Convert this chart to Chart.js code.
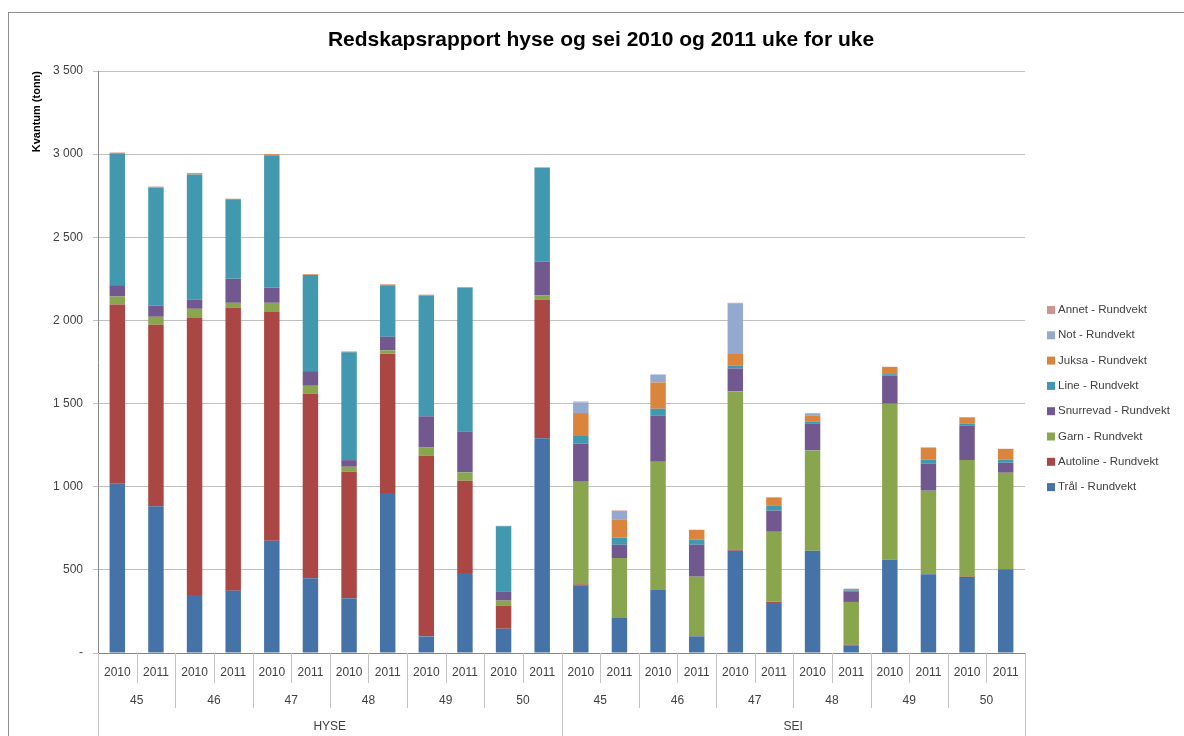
<!DOCTYPE html>
<html>
<head>
<meta charset="utf-8">
<script src="https://cdn.jsdelivr.net/npm/chart.js@4"></script>
<style>
  html, body { margin: 0; padding: 0; background: #fff; overflow: hidden; }
  #frame { position: absolute; left: 8px; top: 12px; width: 1200px; height: 760px; border: 1px solid #8e8e8e; }
  #wrap { position: absolute; left: 0; top: 0; width: 1184px; height: 736px; }
</style>
</head>
<body>
<div id="frame"></div>
<div id="wrap"><canvas id="myChart"></canvas></div>
<script>
// categories: year per bar, grouped by week, then by species
const years = ['2010', '2011', '2010', '2011', '2010', '2011', '2010', '2011', '2010', '2011', '2010', '2011',
               '2010', '2011', '2010', '2011', '2010', '2011', '2010', '2011', '2010', '2011', '2010', '2011'];
const weeks = ['45', '46', '47', '48', '49', '50', '45', '46', '47', '48', '49', '50'];
const species = ['HYSE', 'SEI'];

// values (tonn), one per bar
const tral      = [1018, 882, 349, 375, 675, 449, 329, 962, 100, 481, 146, 1291, 407, 214, 379, 100, 615, 301, 615, 44, 561, 473, 451, 503];
const autoline  = [1078, 1092, 1665, 1703, 1375, 1110, 761, 838, 1088, 555, 139, 835, 6, 2, 0, 6, 6, 8, 0, 6, 0, 0, 8, 0];
const garn      = [48, 48, 56, 28, 56, 48, 30, 20, 50, 50, 30, 24, 617, 355, 771, 353, 952, 420, 603, 257, 938, 503, 701, 581];
const snurrevad = [68, 66, 56, 144, 90, 88, 40, 82, 185, 245, 56, 203, 229, 80, 279, 192, 138, 127, 163, 64, 170, 164, 209, 60];
const line      = [794, 710, 752, 479, 798, 578, 648, 310, 727, 867, 391, 565, 46, 42, 40, 30, 16, 32, 12, 6, 8, 24, 12, 20];
const juksa     = [2, 4, 7, 2, 5, 4, 4, 3, 3, 0, 0, 0, 138, 111, 158, 60, 76, 48, 36, 8, 44, 72, 36, 64];
const not       = [0, 0, 0, 0, 0, 0, 0, 0, 0, 0, 0, 0, 64, 50, 48, 0, 300, 0, 12, 0, 0, 0, 0, 0];
const annet     = [2, 3, 2, 1, 2, 2, 2, 3, 2, 2, 3, 3, 5, 3, 0, 0, 3, 0, 2, 2, 0, 0, 2, 0];

const yTicks = [0, 500, 1000, 1500, 2000, 2500, 3000, 3500];
const title = 'Redskapsrapport hyse og sei 2010 og 2011 uke for uke';

const FONT = "'Liberation Sans', Arial, sans-serif";
const TXT = '#404040';

function fmt(v) {
  if (v === 0) return '-';
  return String(v).replace(/\B(?=(\d{3})+(?!\d))/g, ' ');
}

// title, centred on the whole chart like the original
const topTitle = {
  id: 'topTitle',
  afterDraw(chart) {
    const c = chart.ctx;
    c.save();
    c.fillStyle = '#000';
    c.font = 'bold 21px ' + FONT;
    c.textAlign = 'center';
    c.textBaseline = 'middle';
    c.fillText(title, 601, 40);
    c.restore();
  }
};

// group labels + separators below the x axis
const groupAxis = {
  id: 'groupAxis',
  afterDraw(chart) {
    const c = chart.ctx;
    const xs = chart.scales.x;
    const top = chart.chartArea.bottom;
    const n = years.length;
    const step = (xs.right - xs.left) / n;
    c.save();
    c.strokeStyle = '#c4c4c4';
    c.lineWidth = 1;
    for (let i = 0; i <= n; i++) {
      let x = Math.round(xs.left + i * step) + 0.5;
      let end = top + 30;
      if (i % 2 === 0) end = top + 55;
      if (i === 0 || i === 12 || i === n) end = 740;
      c.beginPath();
      c.moveTo(x, top);
      c.lineTo(x, end);
      c.stroke();
    }
    c.fillStyle = TXT;
    c.font = '12px ' + FONT;
    c.textAlign = 'center';
    c.textBaseline = 'middle';
    weeks.forEach((w, k) => {
      const x = (xs.getPixelForValue(2 * k) + xs.getPixelForValue(2 * k + 1)) / 2;
      c.fillText(w, x, top + 48);
    });
    species.forEach((s, k) => {
      const x = (xs.getPixelForValue(12 * k) + xs.getPixelForValue(12 * k + 11)) / 2;
      c.fillText(s, x, top + 74);
    });
    c.restore();
  }
};

// legend on the right, reversed like the original
const sideLegend = {
  id: 'sideLegend',
  afterDraw(chart) {
    const c = chart.ctx;
    const ds = chart.data.datasets;
    c.save();
    c.font = '11.5px ' + FONT;
    c.textBaseline = 'middle';
    c.textAlign = 'left';
    for (let i = 0; i < ds.length; i++) {
      const d = ds[ds.length - 1 - i];
      const y = 310 + i * 25.3;
      c.fillStyle = d.backgroundColor;
      c.fillRect(1047, y - 4, 8, 8);
      c.fillStyle = TXT;
      c.fillText(d.label, 1058, y);
    }
    c.restore();
  }
};

const ctx = document.getElementById('myChart').getContext('2d');

const mk = (label, data, color) => ({
  label: label, data: data, backgroundColor: color,
  borderWidth: 0, barPercentage: 0.4, categoryPercentage: 1
});

const myChart = new Chart(ctx, {
  type: 'bar',
  data: {
    labels: years,
    datasets: [
      mk('Trål - Rundvekt', tral, '#4572A7'),
      mk('Autoline - Rundvekt', autoline, '#AA4643'),
      mk('Garn - Rundvekt', garn, '#89A54E'),
      mk('Snurrevad - Rundvekt', snurrevad, '#71588F'),
      mk('Line - Rundvekt', line, '#4198AF'),
      mk('Juksa - Rundvekt', juksa, '#DB843D'),
      mk('Not - Rundvekt', not, '#93A9CF'),
      mk('Annet - Rundvekt', annet, '#D19392')
    ]
  },
  options: {
    responsive: true,
    maintainAspectRatio: false,
    animation: false,
    layout: { padding: { left: 0, right: 159, top: 71, bottom: 0 } },
    plugins: {
      legend: { display: false },
      tooltip: { enabled: false },
      title: { display: false }
    },
    scales: {
      x: {
        stacked: true,
        offset: true,
        grid: { display: false, drawTicks: false },
        border: { display: true, color: '#868686' },
        ticks: { color: TXT, font: { family: FONT, size: 12 }, padding: 12, maxRotation: 0, autoSkip: false },
        afterFit(scale) { scale.height = 83; }
      },
      y: {
        stacked: true,
        min: 0,
        max: 3500,
        afterBuildTicks(scale) { scale.ticks = yTicks.map(v => ({ value: v })); },
        grid: { color: '#c0c0c0', tickLength: 5 },
        border: { display: true, color: '#868686' },
        ticks: { color: TXT, font: { family: FONT, size: 12 }, padding: 10, callback: v => fmt(v) },
        title: {
          display: true,
          text: 'Kvantum (tonn)',
          align: 'end',
          color: '#000',
          font: { family: FONT, size: 11, weight: 'bold' },
          padding: { top: 30, bottom: 0 }
        },
        afterFit(scale) { scale.width = 98; }
      }
    }
  },
  plugins: [topTitle, groupAxis, sideLegend]
});
</script>
</body>
</html>
